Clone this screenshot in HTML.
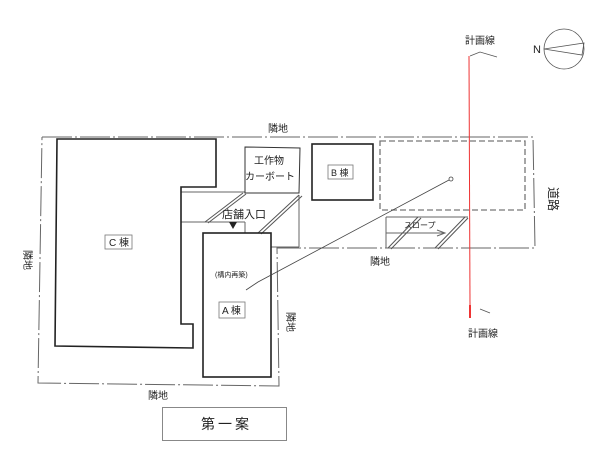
<!DOCTYPE html>
<html><head><meta charset="utf-8"><style>
html,body{margin:0;padding:0;background:#fff;}
svg{display:block;}
text{font-family:"Liberation Sans","Noto Sans CJK JP",sans-serif;fill:#222;}
</style></head><body>
<svg width="604" height="458" viewBox="0 0 604 458" xmlns="http://www.w3.org/2000/svg">
<g fill="none" stroke="#666" stroke-width="1">
<polyline points="42,137 533,137 535,248 277,248 279,386 38,383 42,137" stroke-dasharray="30,3,2,3"/>
<line x1="181" y1="192" x2="245" y2="192"/>
<line x1="181" y1="222" x2="245" y2="222"/>
<line x1="245" y1="222" x2="245" y2="233"/>
<line x1="299" y1="195" x2="299" y2="247"/>
<line x1="271" y1="247" x2="299" y2="247"/>
<line x1="386" y1="217" x2="468" y2="217"/>
<line x1="386" y1="217" x2="386" y2="248"/>
<line x1="386" y1="233" x2="445" y2="233"/>
<polyline points="437,230 445,233 437,236"/>
</g>
<g stroke="#555" stroke-width="1">
<line x1="243" y1="193" x2="205" y2="222"/><line x1="246" y1="194" x2="208" y2="223"/>
<line x1="299" y1="195" x2="258" y2="233"/><line x1="302" y1="196" x2="261" y2="234"/>
<line x1="418" y1="217" x2="388" y2="248"/><line x1="421" y1="218" x2="391" y2="249"/>
<line x1="465" y1="217" x2="435" y2="248"/><line x1="468" y1="218" x2="438" y2="249"/>
</g>
<polygon points="57,139 216,139 216,187 181,187 181,324 193,324 193,348 55,346" fill="none" stroke="#222" stroke-width="1.6"/>
<rect x="203" y="233" width="68" height="144" fill="none" stroke="#222" stroke-width="1.6"/>
<polygon points="245,147 300,148 299,193 245,193" fill="none" stroke="#333" stroke-width="1"/>
<rect x="312" y="144" width="61" height="56" fill="none" stroke="#222" stroke-width="1.6"/>
<rect x="380" y="141" width="145" height="69" fill="none" stroke="#777" stroke-width="1.3" stroke-dasharray="6,3"/>
<polyline points="449,180 258,282 255,284 246,290" fill="none" stroke="#444" stroke-width="0.8"/>
<circle cx="451" cy="179" r="2" fill="#fff" stroke="#444" stroke-width="0.8"/>
<line x1="469" y1="56" x2="470" y2="305" stroke="#e33" stroke-width="1"/>
<line x1="470" y1="305" x2="470" y2="318" stroke="#e33" stroke-width="2"/>
<path d="M470,56 L480,52 L497,57" fill="none" stroke="#555" stroke-width="0.8"/>
<path d="M480,309 L490,313" fill="none" stroke="#555" stroke-width="0.8"/>
<circle cx="564" cy="49" r="20" fill="none" stroke="#555" stroke-width="0.8"/>
<path d="M544,49 L584,43 L582,55 Z M544,49 L584,43" fill="none" stroke="#555" stroke-width="0.8"/>
<text x="533" y="53" font-size="11" fill="#555">N</text>
<rect x="105" y="235" width="27" height="14" fill="#fff" stroke="#777" stroke-width="0.8"/>
<text x="109" y="246" font-size="10">C 棟</text>
<rect x="328" y="165" width="25" height="14" fill="#fff" stroke="#777" stroke-width="0.8"/>
<text x="331" y="176" font-size="9">B 棟</text>
<rect x="219" y="302" width="26" height="16" fill="#fff" stroke="#777" stroke-width="0.8"/>
<text x="222" y="314" font-size="10">A 棟</text>
<text x="215" y="277" font-size="7">(構内再築)</text>
<text x="254" y="164" font-size="10">工作物</text>
<text x="245" y="180" font-size="10">カーボート</text>
<text x="222" y="218" font-size="11">店舗入口</text>
<polygon points="229,222 237,222 233,229" fill="#222"/>
<text x="404" y="228" font-size="8">スロープ</text>
<text x="268" y="132" font-size="10">隣地</text>
<text x="370" y="265" font-size="10">隣地</text>
<text x="148" y="399" font-size="10">隣地</text>
<g font-size="10">
<text transform="translate(24,250) rotate(90)">隣地</text>
<text transform="translate(287,312) rotate(90)">隣地</text>
<text transform="translate(549,187) rotate(90)" font-size="12">道路</text>
</g>
<text x="465" y="44" font-size="10">計画線</text>
<text x="468" y="337" font-size="10">計画線</text>
<rect x="162.5" y="407.5" width="124" height="33" fill="#fff" stroke="#888" stroke-width="1"/>
<text x="201" y="429" font-size="14" letter-spacing="3">第一案</text>
</svg>
</body></html>
